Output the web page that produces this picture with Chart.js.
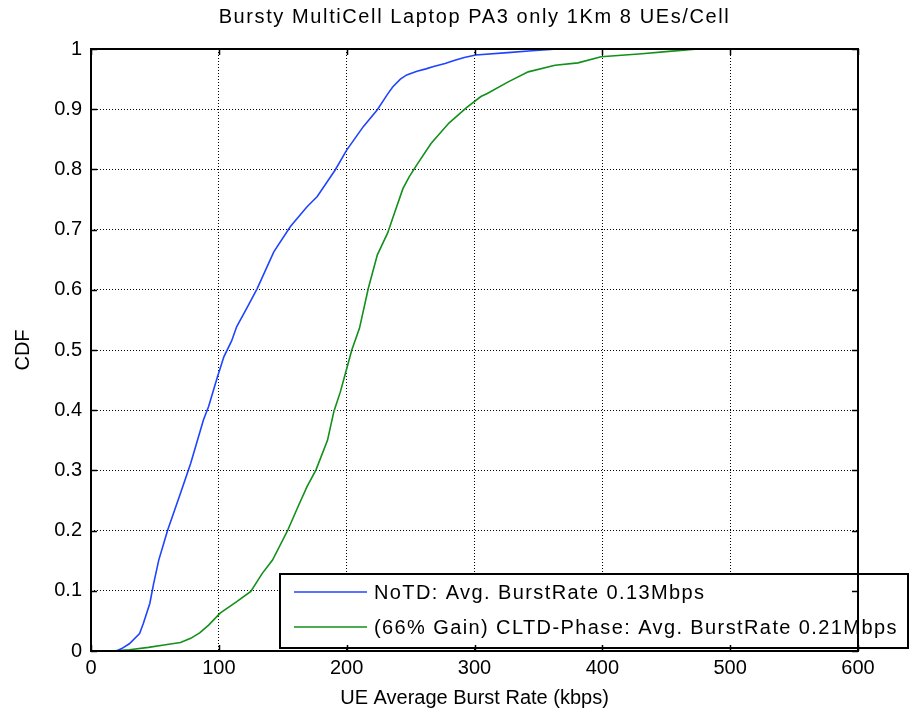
<!DOCTYPE html>
<html>
<head>
<meta charset="utf-8">
<script src="https://cdn.jsdelivr.net/npm/chart.js@4.4.1/dist/chart.umd.min.js"></script>
<style>
  html, body { margin: 0; padding: 0; background: #fff; }
  #wrap { width: 910px; height: 716px; }
</style>
</head>
<body>
<div id="wrap"><canvas id="grafico"></canvas></div>
<script>
// eixos
const xTicks = [0, 100, 200, 300, 400, 500, 600];
const yTicks = [0, 0.1, 0.2, 0.3, 0.4, 0.5, 0.6, 0.7, 0.8, 0.9, 1];
const titulo = 'Bursty MultiCell Laptop PA3 only 1Km 8 UEs/Cell';

// NoTD
const noTdLabel = "NoTD: Avg. BurstRate 0.13Mbps";
const noTdRate = [0, 20, 24, 30, 38, 41, 46, 49, 53, 60, 70, 78, 88, 92, 99, 104, 110, 114, 122, 130, 143, 156, 169, 177, 191, 200, 213, 224, 232, 236, 242, 247, 255, 262, 268, 277, 284, 292, 301, 326, 345, 365];
const noTdCdf = [0, 0, 0.004, 0.012, 0.029, 0.046, 0.079, 0.112, 0.151, 0.201, 0.262, 0.312, 0.384, 0.406, 0.456, 0.489, 0.515, 0.539, 0.57, 0.602, 0.663, 0.705, 0.738, 0.755, 0.799, 0.832, 0.871, 0.899, 0.925, 0.937, 0.95, 0.957, 0.963, 0.967, 0.971, 0.976, 0.981, 0.986, 0.990, 0.994, 0.997, 1.0];

// CLTD-Phase
const cltdLabel = "(66% Gain) CLTD-Phase: Avg. BurstRate 0.21Mbps";
const cltdRate = [0, 15, 30, 45, 57, 70, 78, 85, 92, 101, 114, 125, 134, 142, 154, 162, 169, 176, 185, 190, 195, 199, 204, 210, 217, 224, 232, 237, 244, 249, 255, 266, 280, 294, 305, 310, 326, 342, 363, 381, 399, 431, 452, 475];
const cltdCdf = [0, 0, 0.002, 0.006, 0.01, 0.014, 0.021, 0.03, 0.043, 0.063, 0.082, 0.099, 0.129, 0.151, 0.201, 0.24, 0.273, 0.301, 0.35, 0.398, 0.43, 0.461, 0.5, 0.536, 0.603, 0.658, 0.694, 0.725, 0.768, 0.788, 0.808, 0.843, 0.877, 0.903, 0.921, 0.926, 0.945, 0.962, 0.973, 0.977, 0.987, 0.992, 0.996, 1.0];

const FONTE = "'Liberation Sans', Arial, sans-serif";
const AZUL = '#1f44ff';
const VERDE = '#12901a';

function pontos(xs, ys) {
  return xs.map((x, i) => ({ x: x, y: ys[i] }));
}

// titulo com espacamento entre letras
const tituloPlugin = {
  id: 'tituloEspacado',
  afterDraw(chart) {
    const { ctx, chartArea: a } = chart;
    ctx.save();
    ctx.font = '20px ' + FONTE;
    ctx.letterSpacing = '1.6px';
    ctx.fillStyle = '#000';
    ctx.textAlign = 'center';
    ctx.textBaseline = 'middle';
    ctx.fillText(titulo, (a.left + a.right) / 2, 17);
    ctx.restore();
  }
};

// caixa em volta do grafico + ticks para dentro (estilo matlab)
const caixaPlugin = {
  id: 'caixa',
  afterDraw(chart) {
    const { ctx, chartArea: a, scales } = chart;
    const tam = 6;
    ctx.save();
    ctx.strokeStyle = '#000';
    ctx.lineWidth = 1.5;
    ctx.beginPath();
    xTicks.forEach(v => {
      const px = Math.round(scales.x.getPixelForValue(v)) + 0.5;
      ctx.moveTo(px, a.bottom); ctx.lineTo(px, a.bottom - tam);
      ctx.moveTo(px, a.top); ctx.lineTo(px, a.top + tam);
    });
    yTicks.forEach(v => {
      const py = Math.round(scales.y.getPixelForValue(v)) + 0.5;
      ctx.moveTo(a.left, py); ctx.lineTo(a.left + tam, py);
      ctx.moveTo(a.right, py); ctx.lineTo(a.right - tam, py);
    });
    ctx.stroke();
    ctx.lineWidth = 2;
    ctx.strokeRect(a.left, a.top, a.right - a.left, a.bottom - a.top);
    ctx.restore();
  }
};

// legenda desenhada no canto inferior direito
const legendaPlugin = {
  id: 'legendaCaixa',
  afterDatasetsDraw(chart) {
    const { ctx, chartArea: a } = chart;
    const x0 = a.left + 189, y0 = a.bottom - 77;
    const x1 = 908, y1 = a.bottom - 3;
    ctx.save();
    ctx.fillStyle = '#fff';
    ctx.fillRect(x0, y0, x1 - x0, y1 - y0);
    ctx.strokeStyle = '#000';
    ctx.lineWidth = 2;
    ctx.strokeRect(x0, y0, x1 - x0, y1 - y0);
    ctx.font = '20px ' + FONTE;
    ctx.letterSpacing = '1.4px';
    ctx.textBaseline = 'middle';
    chart.data.datasets.forEach((ds, i) => {
      const y = y0 + 18 + i * 35;
      ctx.strokeStyle = ds.borderColor;
      ctx.lineWidth = 1.5;
      ctx.beginPath();
      ctx.moveTo(x0 + 14, y);
      ctx.lineTo(x0 + 87, y);
      ctx.stroke();
      ctx.fillStyle = '#000';
      ctx.fillText(ds.label, x0 + 94, y + 1);
    });
    ctx.restore();
  }
};

const grafico = new Chart(document.getElementById('grafico'), {
  type: 'scatter',
  data: {
    datasets: [
      { label: noTdLabel, data: pontos(noTdRate, noTdCdf), borderColor: AZUL, backgroundColor: AZUL },
      { label: cltdLabel, data: pontos(cltdRate, cltdCdf), borderColor: VERDE, backgroundColor: VERDE }
    ]
  },
  options: {
    responsive: true,
    maintainAspectRatio: false,
    animation: false,
    showLine: true,
    elements: {
      point: { radius: 0, hoverRadius: 0 },
      line: { borderWidth: 1.6, tension: 0 }
    },
    layout: { padding: { left: 11, right: 52, top: 49, bottom: 0 } },
    plugins: {
      legend: { display: false },
      tooltip: { enabled: false },
      title: { display: false }
    },
    scales: {
      x: {
        type: 'linear',
        min: 0, max: 600,
        afterBuildTicks: s => { s.ticks = xTicks.map(v => ({ value: v })); },
        afterFit: s => { s.height = 65; },
        ticks: {
          color: '#000', padding: 5, maxRotation: 0,
          font: { family: FONTE, size: 20 },
          callback: v => String(v)
        },
        grid: { color: '#000', lineWidth: 1, drawTicks: false },
        border: { display: false, dash: [1, 2] },
        title: {
          display: true,
          text: 'UE Average Burst Rate (kbps)',
          color: '#000',
          font: { family: FONTE, size: 20 },
          padding: { top: 0, bottom: 6 }
        }
      },
      y: {
        type: 'linear',
        min: 0, max: 1,
        afterBuildTicks: s => { s.ticks = yTicks.map(v => ({ value: v })); },
        afterFit: s => { s.width = 80; },
        ticks: {
          color: '#000', padding: 9,
          font: { family: FONTE, size: 20 },
          callback: v => String(Math.round(v * 10) / 10)
        },
        grid: { color: '#000', lineWidth: 1, drawTicks: false },
        border: { display: false, dash: [1, 2] },
        title: {
          display: true,
          text: 'CDF',
          color: '#000',
          font: { family: FONTE, size: 20 },
          padding: { top: 0, bottom: 0 }
        }
      }
    }
  },
  plugins: [legendaPlugin, caixaPlugin, tituloPlugin]
});
</script>
</body>
</html>
